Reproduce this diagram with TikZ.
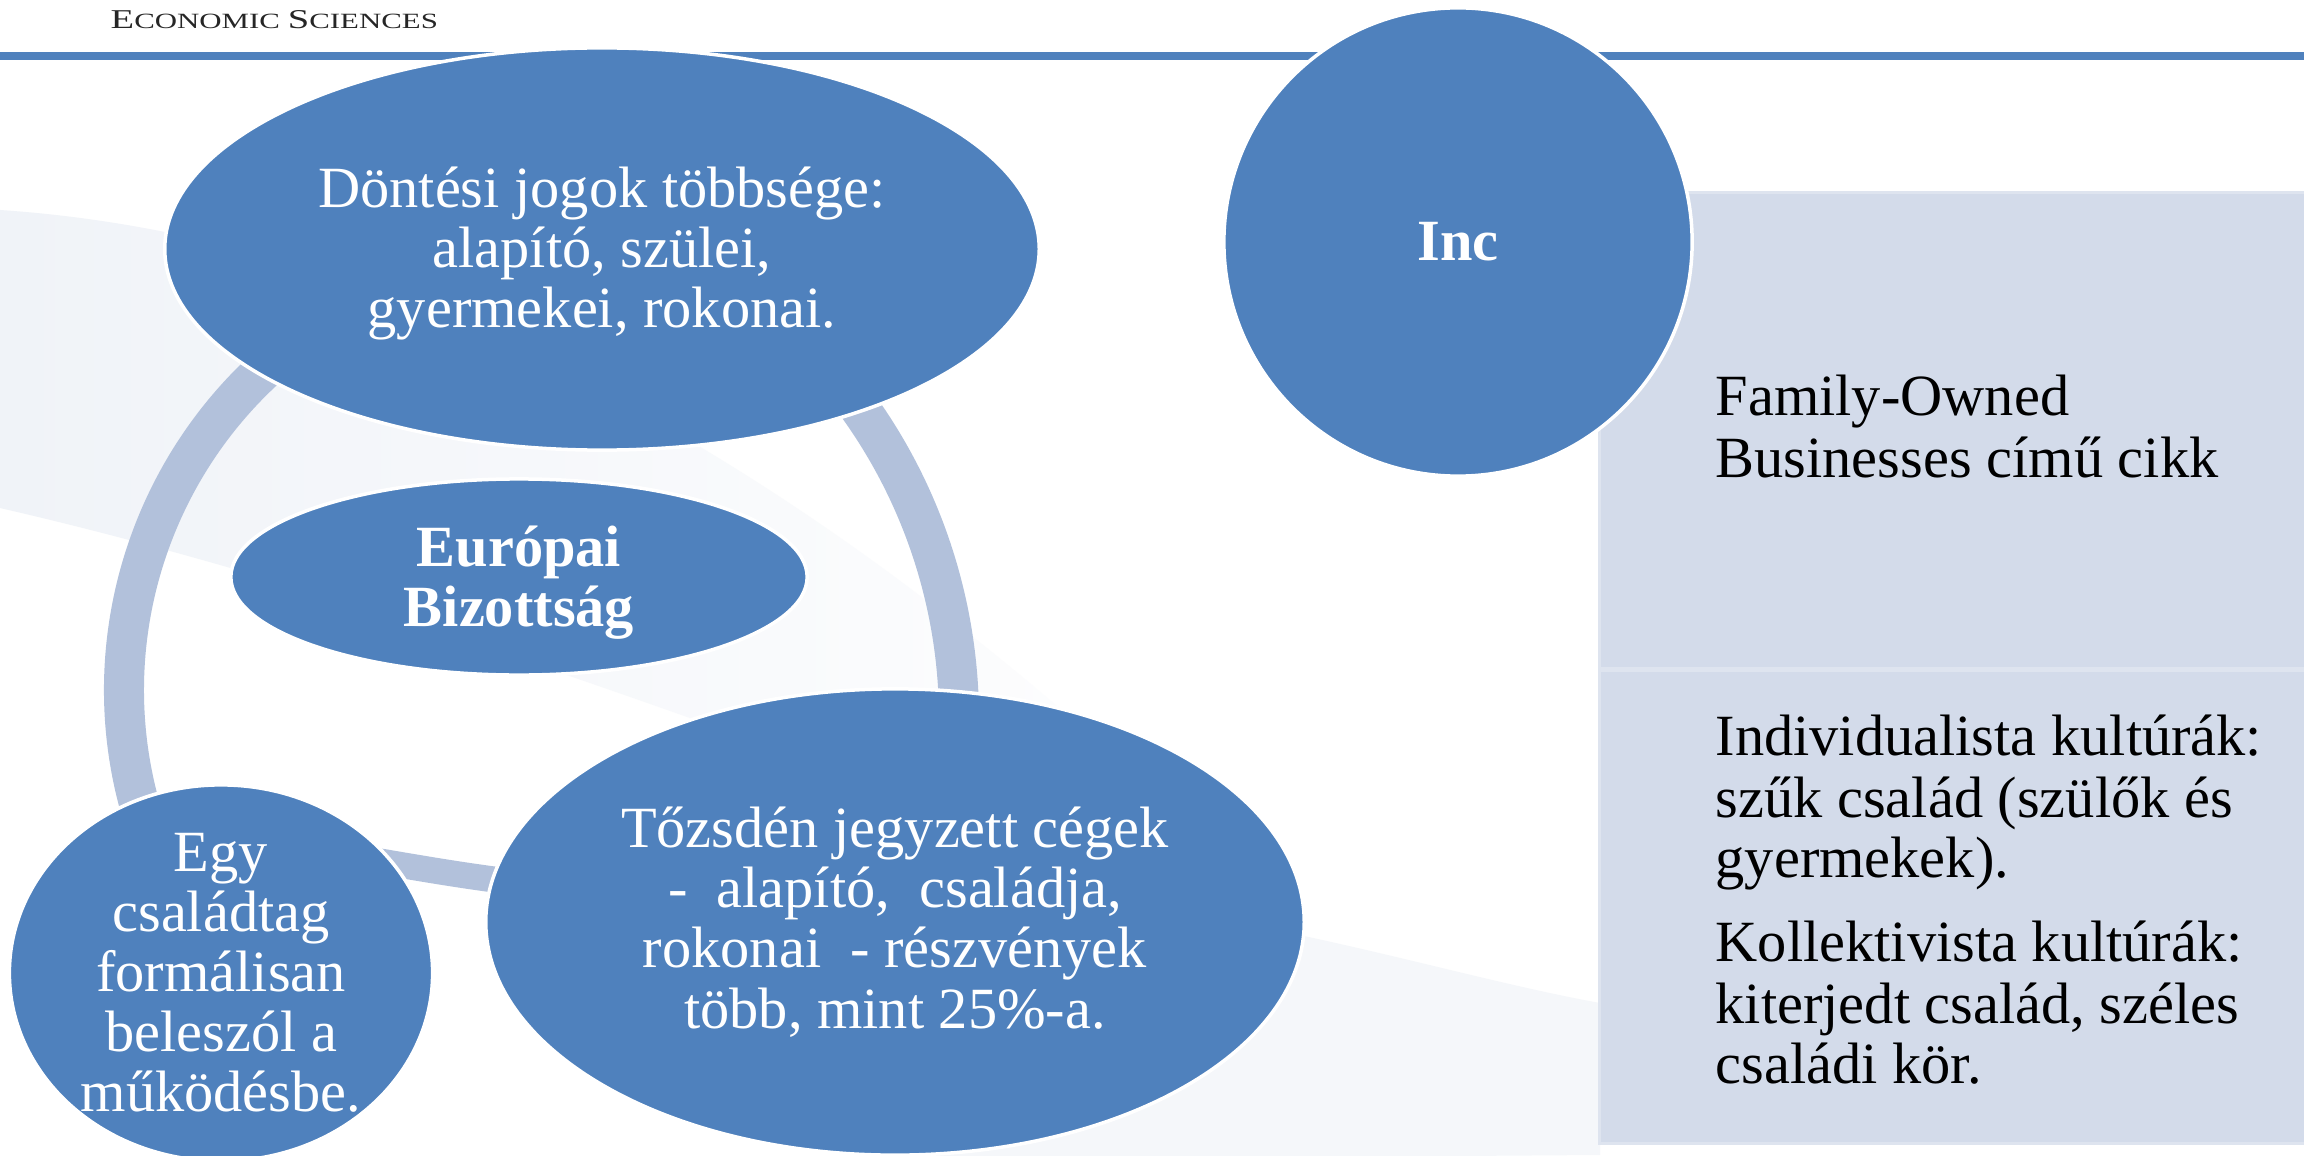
\documentclass[tikz,border=0pt]{standalone}
\usepackage{fontspec}
\usepackage{graphicx}
\setmainfont{Liberation Serif}
\usetikzlibrary{shapes.geometric}
\definecolor{nodeblue}{HTML}{4F81BD}
\definecolor{bandcol}{HTML}{B2C1DB}
\definecolor{boxfill}{HTML}{D3DBEA}
\definecolor{boxline}{HTML}{DEE4EF}
\definecolor{swoosh}{HTML}{F0F3F8}
\newcommand\mynodefont{\fontsize{16.6pt}{17.1pt}\selectfont}
\newcommand\myboxfont{\fontsize{16.6pt}{17.4pt}\selectfont}
\begin{document}
\begin{tikzpicture}[x=0.01cm, y=-0.01cm,
  blob/.style={ellipse, fill=nodeblue, draw=white, line width=0.035cm, inner sep=0pt,
               text=white, align=center, font=\mynodefont},
  bandline/.style={draw=bandcol, line width=0.40cm},
  boxpart/.style={rectangle, fill=boxfill, draw=boxline, line width=0.03cm, inner sep=0pt,
                  anchor=north west, minimum width=7.06cm},
  boxtext/.style={anchor=base west, inner sep=0pt, font=\myboxfont, text=black},
]
\useasboundingbox (0,0) rectangle (2304,1155);
\fill[white] (0,0) rectangle (2304,1155);
% faint background swooshes
\shade[left color=swoosh, right color=white]
  (0,210) .. controls (450,240) and (900,520) .. (1304,940)
  .. controls (800,760) and (400,600) .. (0,508) -- cycle;
\fill[swoosh!70!white]
  (1250,925) .. controls (1380,950) and (1500,985) .. (1600,1003)
  -- (1600,1155) -- (895,1160) -- cycle;

% header
\node[anchor=base west, inner sep=0pt, text=black!85] (hdr) at (110,29)
  {\resizebox{3.27cm}{0.18cm}{{\fontsize{8pt}{9pt}\selectfont E}{\fontsize{6.4pt}{8pt}\selectfont CONOMIC}\,{\fontsize{8pt}{9pt}\selectfont S}{\fontsize{6.4pt}{8pt}\selectfont CIENCES}}};
\fill[nodeblue] (0,52) rectangle (2304,60);

% right grey panel
\node[boxpart, minimum height=4.76cm] (boxtop) at (1598,191) {};
\node[boxpart, minimum height=4.73cm] (boxbot) at (1598,669) {};

\node[boxtext] (t1) at (1715,415) {Family-Owned};
\node[boxtext] (t2) at (1715,477) {Businesses című cikk};
\node[boxtext] (t3) at (1715,755) {Individualista kultúrák:};
\node[boxtext] (t4) at (1715,817) {szűk család (szülők és};
\node[boxtext] (t5) at (1715,877) {gyermekek).};
\node[boxtext] (t6) at (1715,961) {Kollektivista kultúrák:};
\node[boxtext] (t7) at (1715,1023) {kiterjedt család, széles};
\node[boxtext] (t8) at (1715,1083) {családi kör.};

% Inc circle
\node[blob, minimum width=4.68cm, minimum height=4.68cm, font=\mynodefont\bfseries] (inc) at (1458,242) {Inc};

% cycle bands
\draw[bandline] (560,690) ++(-125:436) arc[start angle=-125, end angle=-200, radius=436];
\draw[bandline] (423,719) ++(-40:536) arc[start angle=-40, end angle=5, radius=536];
\draw[bandline, line width=0.26cm] (360,858) .. controls (430,870) and (470,877) .. (530,884);

% nodes
\node[blob, minimum width=8.74cm, minimum height=4.02cm] (dontesi) at (602,249)
  {\rule{0pt}{0.5cm}Döntési jogok többsége:\\alapító, szülei,\\gyermekei, rokonai.};
\node[blob, minimum width=5.76cm, minimum height=1.96cm, font=\mynodefont\bfseries] (europai) at (519,577)
  {\rule{0pt}{0.51cm}Európai\\Bizottság};
\node[blob, minimum width=8.18cm, minimum height=4.66cm] (tozsde) at (895,922)
  {Tőzsdén jegyzett cégek\\-\ \ alapító,\ \ családja,\\rokonai\ \ - részvények\\több, mint 25\%-a.};
\node[blob, minimum width=4.23cm, minimum height=3.76cm, inner ysep=-1cm, inner xsep=-0.3cm] (egy) at (221,973)
  {Egy\\családtag\\formálisan\\beleszól a\\működésbe.};
\end{tikzpicture}
\end{document}
